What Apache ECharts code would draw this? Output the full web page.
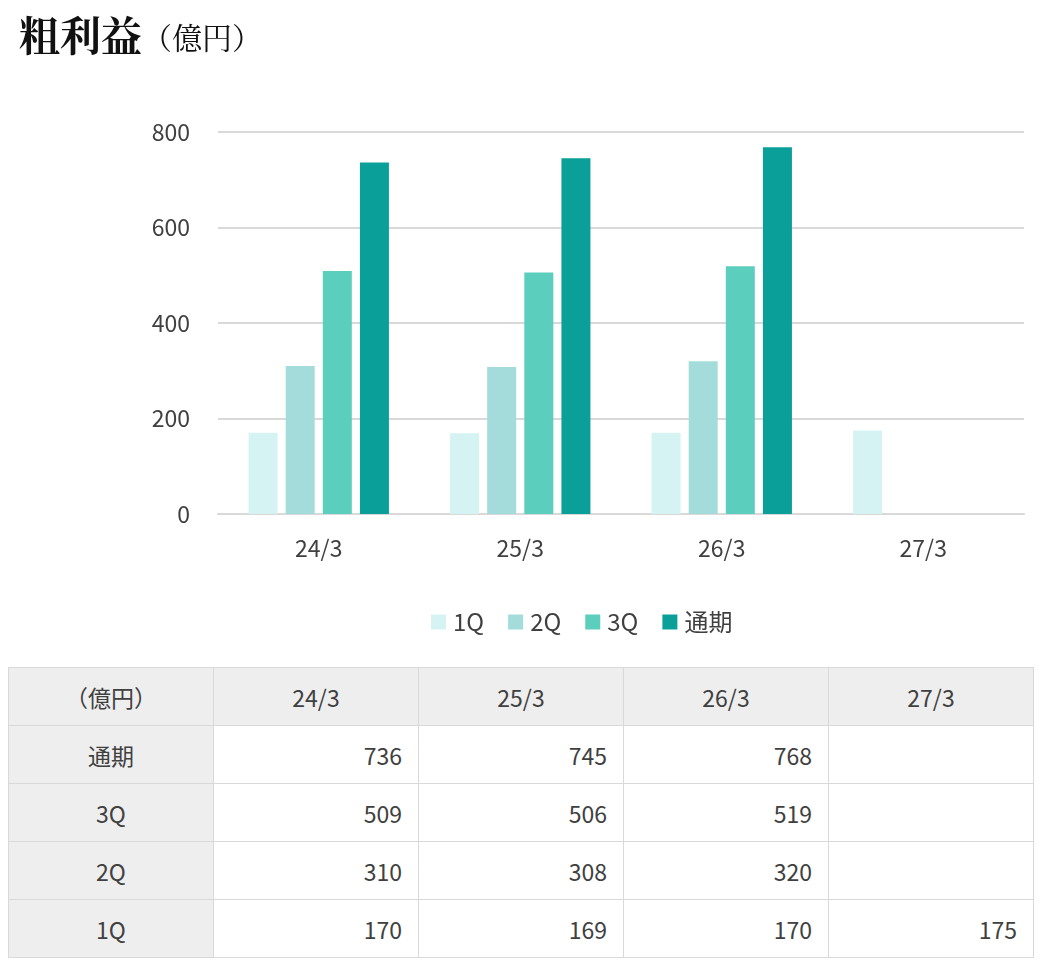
<!DOCTYPE html>
<html>
<head>
<meta charset="utf-8">
<script src="https://cdn.jsdelivr.net/npm/echarts@6/dist/echarts.min.js"></script>
<style>
    html, body { margin: 0; padding: 0; background: #fff; }
    #chart { position: absolute; left: 0; top: 0; width: 1039px; height: 660px; }
    #tbl { position: absolute; left: 8px; top: 667px; border-collapse: collapse; font-family: "Noto Sans CJK JP", sans-serif; font-size: 23px; color: #404040; }
    #tbl td { border: 1px solid #d9d9d9; height: 57px; padding: 0 16px; width: 172px; }
    #tbl tr:first-child td { background: #eeeeee; text-align: center; }
    #tbl td:first-child { background: #eeeeee; text-align: center; }
    #tbl td.num { text-align: right; }
</style>
</head>
<body>
<div id="chart"></div>
<table id="tbl"></table>
<script>
const years = ['24/3', '25/3', '26/3', '27/3'];
const q1 = [170, 169, 170, 175];
const q2 = [310, 308, 320, null];
const q3 = [509, 506, 519, null];
const full = [736, 745, 768, null];
const seriesNames = ['1Q', '2Q', '3Q', '通期'];
const colors = ['#d5f3f3', '#a3dcdb', '#5ccebe', '#0a9f98'];

const font = '"Noto Sans CJK JP", sans-serif';
const myChart = echarts.init(document.getElementById('chart'));
const option = {
    animation: false,
    title: {
        text: '{a|粗利益}{b|（億円）}',
        left: 14, top: 10,
        textStyle: {
            rich: {
                a: { fontSize: 41, fontWeight: 'bold', color: '#111', fontFamily: '"Noto Serif CJK JP", serif' },
                b: { fontSize: 30, fontWeight: 'normal', color: '#111', fontFamily: '"Noto Serif CJK JP", serif', padding: [4, 0, 0, 0] }
            }
        }
    },
    legend: {
        data: seriesNames,
        left: 426, top: 605,
        itemWidth: 15, itemHeight: 15, itemGap: 24,
        icon: 'rect',
        textStyle: { fontSize: 24, color: '#404040', fontFamily: font, padding: [0, 0, 0, 2] }
    },
    grid: { left: 218, right: 15, top: 132, height: 382 },
    xAxis: {
        type: 'category',
        data: years,
        axisLine: { lineStyle: { color: '#d9d9d9', width: 2 } },
        axisTick: { show: false },
        axisLabel: { fontSize: 23, color: '#404040', fontFamily: font, margin: 23 }
    },
    yAxis: {
        type: 'value',
        min: 0, max: 800, interval: 200,
        axisLine: { show: false },
        axisTick: { show: false },
        splitLine: { lineStyle: { color: '#d9d9d9', width: 2 } },
        axisLabel: { fontSize: 23, color: '#404040', fontFamily: font, margin: 28 }
    },
    series: [q1, q2, q3, full].map((d, i) => ({
        name: seriesNames[i],
        type: 'bar',
        data: d,
        barWidth: 29,
        barGap: '28%',
        itemStyle: { color: colors[i] }
    }))
};
myChart.setOption(option);

// table below the chart
const tbl = document.getElementById('tbl');
const rows = [['（億円）'].concat(years)];
[['通期', full], ['3Q', q3], ['2Q', q2], ['1Q', q1]].forEach(r => {
    rows.push([r[0]].concat(r[1].map(v => v == null ? '' : String(v))));
});
rows.forEach((r, ri) => {
    const tr = document.createElement('tr');
    r.forEach((c, ci) => {
        const td = document.createElement('td');
        td.textContent = c;
        if (ri > 0 && ci > 0) td.className = 'num';
        tr.appendChild(td);
    });
    tbl.appendChild(tr);
});
</script>
</body>
</html>
